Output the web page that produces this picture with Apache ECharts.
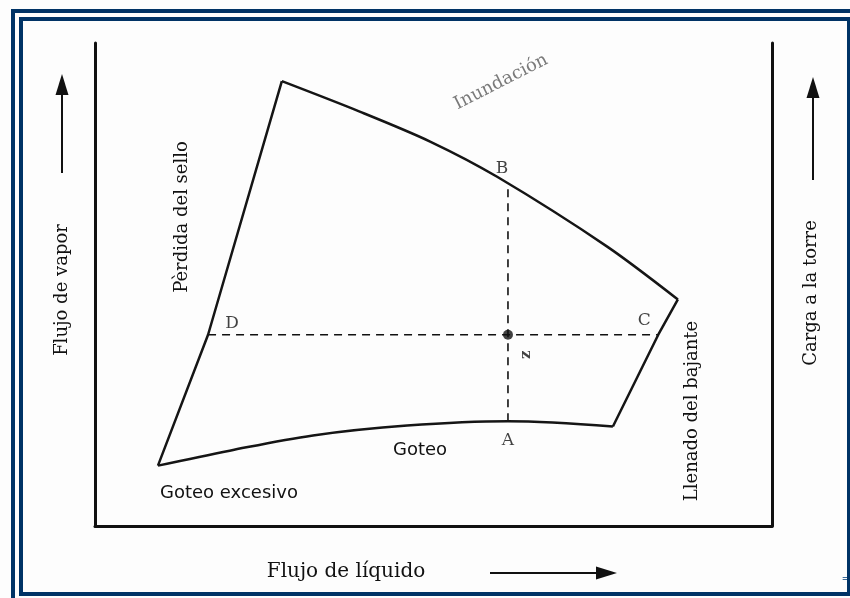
<!DOCTYPE html>
<html>
<head>
<meta charset="utf-8">
<script src="https://cdn.jsdelivr.net/npm/echarts@6/dist/echarts.min.js"></script>
<style>
  html, body { margin: 0; padding: 0; background: #fff; }
  #chart { width: 850px; height: 598px; }
</style>
</head>
<body>
<div id="chart"></div>
<script>
// bordes de la zona de operación (unidades arbitrarias: líquido 0-100, vapor 0-100)
var inundacion = [[27.6, 92.1], [39.1, 85.8], [49.5, 79.6], [59.4, 72.3], [75.6, 57.9], [86.1, 46.9]];
var llenadoBajante = [[86.1, 46.9], [83.2, 39.6], [76.5, 20.6]];
var goteo = [[76.5, 20.6], [61.0, 21.7], [46.1, 20.8], [32.2, 18.75], [19.9, 15.6], [9.3, 12.5]];
var perdidaSello = [[9.3, 12.5], [16.7, 39.6], [27.6, 92.1]];

// punto de operación y líneas auxiliares
var puntoZ = [61.0, 39.6];
var lineaDC = [[16.7, 39.6], [83.2, 39.6]];
var lineaAB = [[61.0, 21.7], [61.0, 70.8]];
var letras = ['A', 'B', 'C', 'D'];
var letrasPos = [[61.0, 21.7], [61.0, 70.8], [83.2, 39.6], [16.7, 39.6]];

var myChart = echarts.init(document.getElementById('chart'), null, { renderer: 'canvas' });

var edgeStyle = { color: '#151515', width: 2.5 };
var dashStyle = { color: '#111', width: 1.6, type: [8, 6] };
var labelOffsets = { A: [0, 19], B: [-6, -15], C: [-14, -14], D: [24, -11] };

function edge(name, data, smooth) {
    return {
        name: name, type: 'line', data: data, smooth: smooth,
        symbol: 'none', lineStyle: edgeStyle, silent: true, z: 3
    };
}

var serifFont = '"DejaVu Serif", serif';
var sansFont = '"DejaVu Sans", sans-serif';

function txt(text, x, y, opts) {
    opts = opts || {};
    return {
        type: 'text', x: x, y: y,
        rotation: (opts.rot || 0) * Math.PI / 180,
        style: {
            text: text,
            fontFamily: opts.font || serifFont,
            fontSize: opts.size || 18,
            fill: opts.color || '#111',
            align: opts.align || 'center',
            verticalAlign: 'middle'
        },
        z: 10
    };
}

function arrow(x1, y1, x2, y2) {
    var ang = Math.atan2(y2 - y1, x2 - x1);
    var len = 21, half = 6.5;
    var bx = x2 - len * Math.cos(ang), by = y2 - len * Math.sin(ang);
    var px = -Math.sin(ang) * half, py = Math.cos(ang) * half;
    return [
        { type: 'line', shape: { x1: x1, y1: y1, x2: bx, y2: by }, style: { stroke: '#111', lineWidth: 2 } },
        { type: 'polygon', shape: { points: [[x2, y2], [bx + px, by + py], [bx - px, by - py]] }, style: { fill: '#111' } }
    ];
}

var option = {
    animation: false,
    backgroundColor: '#fdfdfd',
    grid: { left: 95, right: 78, top: 43, bottom: 72 },
    xAxis: {
        type: 'value', min: 0, max: 100,
        axisLine: { show: true, onZero: false, lineStyle: { color: '#111', width: 3 } },
        axisTick: { show: false }, axisLabel: { show: false }, splitLine: { show: false }
    },
    yAxis: [
        {
            type: 'value', min: 0, max: 100, position: 'left',
            axisLine: { show: true, onZero: false, lineStyle: { color: '#111', width: 3 } },
            axisTick: { show: false }, axisLabel: { show: false }, splitLine: { show: false }
        },
        {
            type: 'value', min: 0, max: 100, position: 'right',
            axisLine: { show: true, onZero: false, lineStyle: { color: '#111', width: 3 } },
            axisTick: { show: false }, axisLabel: { show: false }, splitLine: { show: false }
        }
    ],
    series: [
        edge('Inundación', inundacion, 0.3),
        edge('Llenado del bajante', llenadoBajante, false),
        edge('Goteo', goteo, 0.35),
        edge('Pèrdida del sello', perdidaSello, false),
        {
            type: 'line', data: lineaDC, symbol: 'none', lineStyle: dashStyle, silent: true, z: 2
        },
        {
            type: 'line', data: lineaAB, symbol: 'none', lineStyle: dashStyle, silent: true, z: 2
        },
        {
            type: 'scatter', data: [puntoZ], symbol: 'circle', symbolSize: 10,
            itemStyle: { color: '#111' }, silent: true, z: 5,
            label: {
                show: true, formatter: 'z', position: 'inside', offset: [-20, 18],
                rotate: 90, color: '#111', fontFamily: serifFont, fontSize: 15, fontWeight: 'bold'
            }
        },
        {
            type: 'scatter', symbolSize: 0, silent: true, z: 5,
            data: letras.map(function (l, i) {
                return {
                    name: l, value: letrasPos[i],
                    label: { offset: labelOffsets[l] }
                };
            }),
            label: {
                show: true, position: 'inside', formatter: '{b}',
                color: '#111', fontFamily: serifFont, fontSize: 17
            }
        }
    ],
    graphic: [
        // marcos azules
        { type: 'rect', shape: { x: 13, y: 11, width: 860, height: 620 }, style: { fill: 'none', stroke: '#003366', lineWidth: 4 }, z: 20 },
        { type: 'rect', shape: { x: 21, y: 19, width: 828, height: 575 }, style: { fill: 'none', stroke: '#003366', lineWidth: 4 }, z: 20 },

        txt('Flujo de vapor', 62, 290, { rot: 90 }),
        txt('Carga a la torre', 811, 293, { rot: 90 }),
        txt('Flujo de líquido', 346, 572, { size: 20 }),
        txt('Pèrdida del sello', 182, 217, { rot: 90 }),
        txt('Llenado del bajante', 692, 411, { rot: 90 }),
        txt('Inundación', 501, 82, { rot: 27, color: '#7a7a7a' }),
        txt('Goteo', 420, 450, { font: sansFont }),
        txt('Goteo excesivo', 160, 493, { font: sansFont, align: 'left' }),
        txt('=', 846, 579, { size: 11, color: '#3b6a99', font: sansFont })
    ].concat(arrow(62, 173, 62, 74), arrow(813, 180, 813, 77), arrow(490, 573, 617, 573))
};

myChart.setOption(option);
</script>
</body>
</html>
